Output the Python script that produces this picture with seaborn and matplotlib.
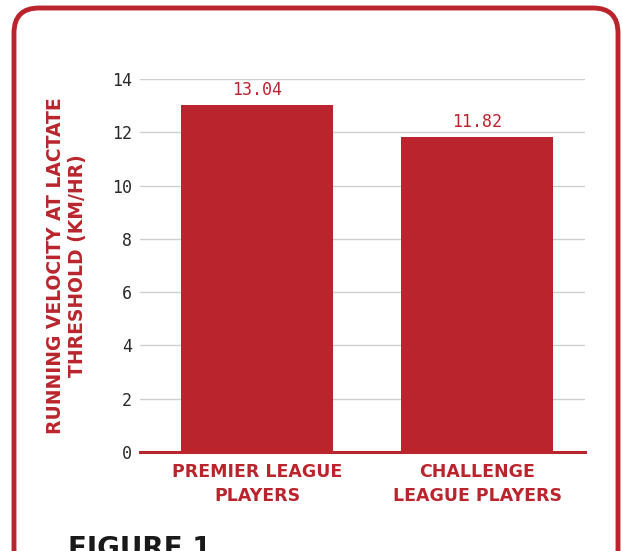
import matplotlib
matplotlib.use("Agg")
import matplotlib.pyplot as plt
from matplotlib.patches import FancyBboxPatch
import seaborn as sns
import pandas as pd

# Data
categories = ["PREMIER LEAGUE\nPLAYERS", "CHALLENGE\nLEAGUE PLAYERS"]
velocities = [13.04, 11.82]
y_ticks = [0, 2, 4, 6, 8, 10, 12, 14]

RED = "#BA252D"
df = pd.DataFrame({"group": categories, "velocity": velocities})

sns.set_theme(style="white")
plt.rcParams["font.family"] = ["DejaVu Sans"]

fig = plt.figure(figsize=(6.22, 5.51), dpi=100)
ax = fig.add_axes([0.2251, 0.1797, 0.7154, 0.6770])

sns.barplot(data=df, x="group", y="velocity", color=RED, saturation=1,
            width=0.69, linewidth=0, ax=ax, zorder=3)

ax.set_ylim(0, 14)
ax.set_xlim(-0.532, 1.49)
ax.set_yticks(y_ticks)
ax.set_yticklabels([str(t) for t in y_ticks], family="DejaVu Sans Mono",
                   fontsize=12, color="#2a2a2a")
ax.tick_params(axis="y", length=0, pad=6)
ax.tick_params(axis="x", length=0, pad=8)
for lbl in ax.get_xticklabels():
    lbl.set_family("DejaVu Sans")
    lbl.set_fontweight("bold")
    lbl.set_color(RED)
    lbl.set_fontsize(12.5)
    lbl.set_linespacing(1.45)

ax.yaxis.grid(True, color="#cfcfcf", linewidth=1.0, zorder=0)
ax.xaxis.grid(False)
for side in ["left", "right", "top"]:
    ax.spines[side].set_visible(False)
ax.spines["bottom"].set_color(RED)
ax.spines["bottom"].set_linewidth(2.2)
ax.spines["bottom"].set_zorder(4)

ax.set_xlabel("")
ax.set_ylabel("RUNNING VELOCITY AT LACTATE\nTHRESHOLD (KM/HR)", color=RED,
              family="DejaVu Sans", fontweight="bold", fontsize=13.5,
              labelpad=18, linespacing=1.15)

for cont in ax.containers:
    ax.bar_label(cont, labels=[f"{v:.2f}" for v in velocities], padding=4,
                 color=RED, family="DejaVu Sans Mono", fontsize=12)

# Rounded frame around the figure card
frame = FancyBboxPatch((0.14, -0.6), 6.04, 6.03,
                       boxstyle="round,pad=0,rounding_size=0.25",
                       transform=fig.dpi_scale_trans, fill=False,
                       edgecolor=RED, linewidth=3.5, clip_on=False)
fig.patches.append(frame)

fig.text(68 / 622, 1 - 535 / 551, "FIGURE 1", family="DejaVu Sans",
         fontsize=20, fontweight="bold", color="#1a1a1a", va="top", ha="left")

fig.savefig("out.png", dpi=100, facecolor="white")
